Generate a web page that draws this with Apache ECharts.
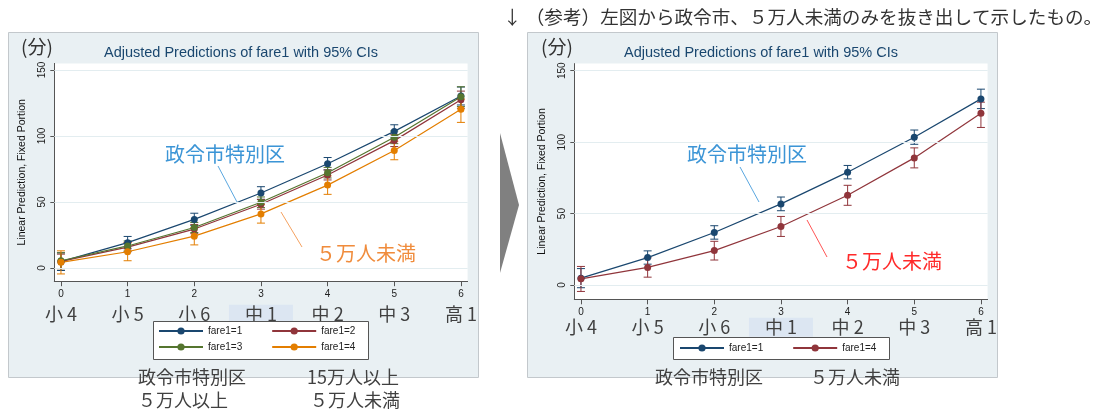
<!DOCTYPE html>
<html>
<head>
<meta charset="utf-8">
<script src="https://cdn.jsdelivr.net/npm/echarts@6/dist/echarts.min.js"></script>
<style>
html,body{margin:0;padding:0;background:#fff;}
#chart{width:1104px;height:409px;}
</style>
</head>
<body>
<div id="chart"></div>
<script>
// grade index on the x axis and its school-year label
const xTicks = [0, 1, 2, 3, 4, 5, 6];
const gradeLabels = ['小 4', '小 5', '小 6', '中 1', '中 2', '中 3', '高 1'];
const yTicks = [0, 50, 100, 150];

// predicted minutes by fare1 group, with 95% confidence limits
const fare1Mean = [4.8, 19.2, 36.8, 56.8, 79.0, 103.5, 130.3];
const fare1Lo   = [-1.9, 14.6, 32.1, 52.0, 74.3, 98.5, 123.5];
const fare1Hi   = [11.5, 23.9, 41.5, 61.6, 83.7, 108.5, 137.1];

const fare2Mean = [5.0, 15.8, 29.5, 48.3, 70.5, 96.5, 127.5];
const fare2Lo   = [-0.5, 12.3, 26.0, 44.6, 66.7, 92.0, 121.0];
const fare2Hi   = [10.5, 19.3, 33.0, 52.0, 74.3, 101.0, 134.0];

const fare3Mean = [5.5, 16.7, 30.7, 49.8, 72.2, 99.0, 129.8];
const fare3Lo   = [-0.5, 12.9, 26.9, 45.8, 68.2, 94.2, 122.3];
const fare3Hi   = [11.5, 20.5, 34.5, 53.8, 76.2, 103.8, 137.3];

const fare4Mean = [4.3, 12.3, 24.1, 41.0, 62.8, 89.0, 120.3];
const fare4Lo   = [-4.5, 5.5, 17.5, 34.0, 55.8, 82.0, 110.3];
const fare4Hi   = [13.0, 19.0, 30.6, 48.0, 69.8, 96.0, 128.0];

const NAVY = '#1a476f', MAROON = '#90353b', GREEN = '#55752f', ORANGE = '#e37e00';
const JP = '"Noto Sans CJK JP", "Noto Sans", sans-serif';
const LAT = '"Liberation Sans", Arial, sans-serif';

const pts = (vals) => xTicks.map((x, i) => [x, vals[i]]);
const ciPts = (lo, hi) => xTicks.map((x, i) => [x, lo[i], hi[i]]);

// capped vertical interval drawn through the axis scales
function capBar(color) {
  return function (params, api) {
    const x = api.value(0);
    const a = api.coord([x, api.value(1)]);
    const b = api.coord([x, api.value(2)]);
    const w = 4;
    const st = { stroke: color, lineWidth: 1 };
    return {
      type: 'group',
      children: [
        { type: 'line', shape: { x1: a[0], y1: a[1], x2: b[0], y2: b[1] }, style: st },
        { type: 'line', shape: { x1: a[0] - w, y1: a[1], x2: a[0] + w, y2: a[1] }, style: st },
        { type: 'line', shape: { x1: b[0] - w, y1: b[1], x2: b[0] + w, y2: b[1] }, style: st }
      ]
    };
  };
}

function lineSeries(name, vals, color, g) {
  return {
    type: 'line', name: name, xAxisIndex: g, yAxisIndex: g,
    data: pts(vals), symbol: 'circle', symbolSize: 7,
    lineStyle: { width: 1.2, color: color }, itemStyle: { color: color },
    z: 4, silent: true
  };
}
function ciSeries(name, lo, hi, color, g) {
  return {
    type: 'custom', name: name, xAxisIndex: g, yAxisIndex: g,
    data: ciPts(lo, hi), encode: { x: 0, y: [1, 2] },
    renderItem: capBar(color), z: 3, silent: true
  };
}
function gridLines(g) {
  return {
    type: 'line', name: 'grid' + g, xAxisIndex: g, yAxisIndex: g, data: [],
    silent: true, z: 1,
    markLine: {
      silent: true, symbol: 'none', label: { show: false }, animation: false,
      lineStyle: { color: '#e3edf0', width: 1, type: 'solid' },
      data: yTicks.map(v => ({ yAxis: v }))
    }
  };
}

function xAxisFor(g, numLine, margin) {
  return {
    gridIndex: g, type: 'value', min: -0.1, max: 6.1,
    axisLine: { show: true, onZero: false, lineStyle: { color: '#555', width: 1 } },
    axisTick: { show: true, customValues: xTicks, length: 5, lineStyle: { color: '#555' } },
    splitLine: { show: false },
    axisLabel: {
      customValues: xTicks, margin: margin,
      formatter: v => '{n|' + v + '}\n{' + (v === 3 ? 'h' : 'g') + '|' + gradeLabels[v] + '}',
      rich: {
        n: { fontSize: 10, fontFamily: LAT, color: '#222', lineHeight: numLine, align: 'center' },
        g: { fontSize: 18, fontFamily: JP, color: '#404040', lineHeight: 20, align: 'center' },
        h: { fontSize: 18, fontFamily: JP, color: '#404040', lineHeight: 20, height: 19,
             width: 64, align: 'center', backgroundColor: '#dce6f2' }
      }
    }
  };
}
function yAxisFor(g) {
  return {
    gridIndex: g, type: 'value', min: -10, max: 155,
    axisLine: { show: true, onZero: false, lineStyle: { color: '#555', width: 1 } },
    axisTick: { show: true, customValues: yTicks, length: 4, lineStyle: { color: '#555' } },
    splitLine: { show: false },
    axisLabel: { customValues: yTicks, rotate: 90, margin: 7, fontSize: 10, fontFamily: LAT, color: '#222' },
    name: 'Linear Prediction, Fixed Portion', nameLocation: 'middle', nameGap: 27,
    nameTextStyle: { fontSize: 10.5, fontFamily: LAT, color: '#111' }
  };
}

const legendText = { fontSize: 10, fontFamily: LAT, color: '#222' };
function legendRow(names, left, top) {
  return {
    data: names, left: left, top: top, orient: 'horizontal', padding: 0,
    itemWidth: 44, itemHeight: 9, itemGap: 29, textStyle: legendText,
    selectedMode: false, z: 6,
    formatter: n => n.replace(' ', '')
  };
}

const txt = (x, y, text, size, color, align, z) => ({
  type: 'text', x: x, y: y, z: z || 10,
  style: { text: text, fontSize: size, fontFamily: JP, fill: color, align: align || 'center', verticalAlign: 'middle' }
});
const seg = (x1, y1, x2, y2, color) => ({
  type: 'line', z: 10, shape: { x1: x1, y1: y1, x2: x2, y2: y2 }, style: { stroke: color, lineWidth: 1 }
});

const titleStyle = { fontSize: 14.5, fontWeight: 'normal', fontFamily: LAT, color: NAVY };

const option = {
  animation: false,
  backgroundColor: '#fff',
  title: [
    { text: 'Adjusted Predictions of fare1 with 95% CIs', left: 241, top: 45, textAlign: 'center', padding: 0, textStyle: titleStyle },
    { text: 'Adjusted Predictions of fare1 with 95% CIs', left: 761, top: 45, textAlign: 'center', padding: 0, textStyle: titleStyle }
  ],
  grid: [
    { left: 54.3, top: 63.4, width: 413.3, height: 217.8, show: true, backgroundColor: '#fff', borderWidth: 0, outerBoundsMode: 'none' },
    { left: 574.3, top: 63.6, width: 413.3, height: 235.7, show: true, backgroundColor: '#fff', borderWidth: 0, outerBoundsMode: 'none' }
  ],
  xAxis: [xAxisFor(0, 20, 3), xAxisFor(1, 10, 8)],
  yAxis: [yAxisFor(0), yAxisFor(1)],
  legend: [
    legendRow(['fare1=1', 'fare1=2'], 158, 326),
    legendRow(['fare1=3', 'fare1=4'], 158, 342),
    legendRow(['fare1=1 ', 'fare1=4 '], 679, 343)
  ],
  series: [
    gridLines(0),
    ciSeries('ci1', fare1Lo, fare1Hi, NAVY, 0),
    ciSeries('ci2', fare2Lo, fare2Hi, MAROON, 0),
    ciSeries('ci3', fare3Lo, fare3Hi, GREEN, 0),
    ciSeries('ci4', fare4Lo, fare4Hi, ORANGE, 0),
    lineSeries('fare1=1', fare1Mean, NAVY, 0),
    lineSeries('fare1=2', fare2Mean, MAROON, 0),
    lineSeries('fare1=3', fare3Mean, GREEN, 0),
    lineSeries('fare1=4', fare4Mean, ORANGE, 0),

    gridLines(1),
    ciSeries('ci1r', fare1Lo, fare1Hi, NAVY, 1),
    ciSeries('ci4r', fare4Lo, fare4Hi, MAROON, 1),
    lineSeries('fare1=1 ', fare1Mean, NAVY, 1),
    lineSeries('fare1=4 ', fare4Mean, MAROON, 1)
  ],
  graphic: [
    // figure panels
    { type: 'rect', z: -100, shape: { x: 8.5, y: 32.5, width: 470, height: 345 },
      style: { fill: '#e9f0f3', stroke: '#c3c8cc', lineWidth: 1 } },
    { type: 'rect', z: -100, shape: { x: 527.5, y: 32.5, width: 470, height: 345 },
      style: { fill: '#e9f0f3', stroke: '#c3c8cc', lineWidth: 1 } },
    // legend frames
    { type: 'rect', z: 5, shape: { x: 153.5, y: 321.5, width: 215, height: 38 },
      style: { fill: '#fff', stroke: '#555', lineWidth: 1 } },
    { type: 'rect', z: 5, shape: { x: 673.5, y: 337.5, width: 216, height: 22 },
      style: { fill: '#fff', stroke: '#555', lineWidth: 1 } },
    // arrow between the panels
    { type: 'polygon', z: 10, shape: { points: [[500, 133], [519, 205], [500, 273]] }, style: { fill: '#808080' } },
    // headings and units
    txt(503, 17, '↓ （参考）左図から政令市、５万人未満のみを抜き出して示したもの。', 18.6, '#333', 'left'),
    txt(37, 47, '(分)', 19, '#333'),
    txt(557, 47, '(分)', 19, '#333'),
    // callouts on the left panel
    txt(225, 154, '政令市特別区', 20, '#3c95d6'),
    seg(218, 166, 237, 202, '#5aa7e0'),
    txt(366, 253, '５万人未満', 20, '#f08c3c'),
    seg(281, 212, 302, 247, '#f5a261'),
    // callouts on the right panel
    txt(747, 154, '政令市特別区', 20, '#3c95d6'),
    seg(740, 167, 759, 202, '#5aa7e0'),
    txt(892, 261, '５万人未満', 20, '#ff2a2a'),
    seg(807, 220, 827, 257, '#ff5555'),
    // group notes below the panels
    txt(192, 377, '政令市特別区', 18, '#404040'),
    txt(183, 400, '５万人以上', 18, '#404040'),
    txt(353, 377, '15万人以上', 18, '#404040'),
    txt(355, 400, '５万人未満', 18, '#404040'),
    txt(709, 377, '政令市特別区', 18, '#404040'),
    txt(855, 377, '５万人未満', 18, '#404040')
  ]
};

const chart = echarts.init(document.getElementById('chart'), null, { renderer: 'canvas' });
chart.setOption(option);
</script>
</body>
</html>
